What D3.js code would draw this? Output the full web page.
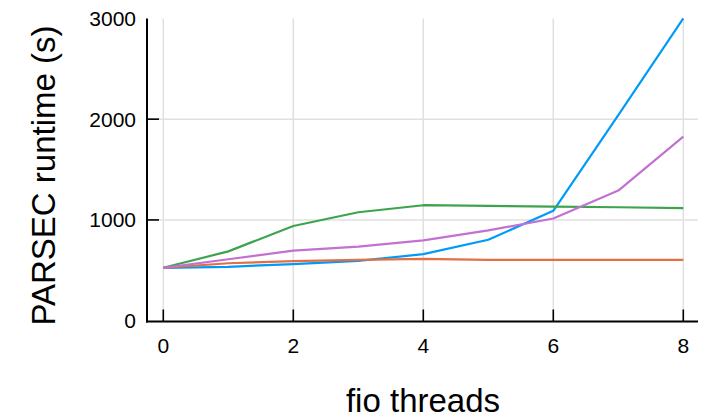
<!DOCTYPE html>
<html>
<head>
<meta charset="utf-8">
<script src="https://cdn.jsdelivr.net/npm/d3@7"></script>
<style>
  body { margin: 0; background: #fff; }
  svg text { font-family: "Liberation Sans", Arial, Helvetica, sans-serif; fill: #000; }
</style>
</head>
<body>
<svg id="chart" width="701" height="420"></svg>
<script>
// fio threads on x
const threads = [0, 1, 2, 3, 4, 5, 6, 7, 8];
// runtime per series
const blueRuntime = [525, 535, 562, 594, 660, 803, 1090, 2040, 3000];
const orangeRuntime = [525, 570, 592, 603, 613, 603, 603, 603, 603];
const greenRuntime = [525, 688, 940, 1076, 1146, 1140, 1132, 1126, 1118];
const purpleRuntime = [525, 610, 695, 735, 798, 896, 1014, 1291, 1827];
const xTicks = [0, 2, 4, 6, 8];
const yTicks = [0, 1000, 2000, 3000];

const series = [
  { values: blueRuntime, color: "#009af9" },
  { values: orangeRuntime, color: "#e26f46" },
  { values: greenRuntime, color: "#3da44d" },
  { values: purpleRuntime, color: "#c271d2" }
];

const svg = d3.select("#chart");

const x = d3.scaleLinear().domain([0, 8]).range([163.3, 683.3]);
const y = d3.scaleLinear().domain([0, 3000]).range([320.7, 18.4]);

const plotLeft = 147, plotRight = 698, plotBottom = 321.5, plotTop = 18.4;

// grid
const grid = svg.append("g").attr("stroke", "#e0e0e0").attr("stroke-width", 1.5);
grid.selectAll(".vx").data(xTicks).enter().append("line")
  .attr("x1", d => x(d)).attr("x2", d => x(d))
  .attr("y1", plotTop).attr("y2", plotBottom);
grid.selectAll(".hy").data(yTicks.filter(d => d > 0 && d < 3000)).enter().append("line")
  .attr("x1", plotLeft).attr("x2", plotRight)
  .attr("y1", d => y(d)).attr("y2", d => y(d));

// lines
const line = d3.line().x((d, i) => x(threads[i])).y(d => y(d));
svg.selectAll(".series").data(series).enter().append("path")
  .attr("fill", "none")
  .attr("stroke", d => d.color)
  .attr("stroke-width", 2.2)
  .attr("stroke-linejoin", "round")
  .attr("d", d => line(d.values));

// spines
svg.append("line").attr("x1", plotLeft).attr("x2", plotLeft).attr("y1", plotTop).attr("y2", plotBottom + 1)
  .attr("stroke", "#000").attr("stroke-width", 2);
svg.append("line").attr("x1", plotLeft - 1).attr("x2", plotRight).attr("y1", plotBottom).attr("y2", plotBottom)
  .attr("stroke", "#000").attr("stroke-width", 2);

// ticks point inward
svg.selectAll(".xt").data(xTicks).enter().append("line")
  .attr("x1", d => x(d)).attr("x2", d => x(d))
  .attr("y1", plotBottom).attr("y2", plotBottom - 12)
  .attr("stroke", "#000").attr("stroke-width", 1.6);
svg.selectAll(".yt").data(yTicks.filter(d => d > 0 && d < 3000)).enter().append("line")
  .attr("x1", plotLeft).attr("x2", plotLeft + 12)
  .attr("y1", d => y(d)).attr("y2", d => y(d))
  .attr("stroke", "#000").attr("stroke-width", 1.6);

// tick labels
svg.selectAll(".xl").data(xTicks).enter().append("text")
  .attr("x", d => x(d)).attr("y", 353)
  .attr("text-anchor", "middle")
  .attr("font-size", 21)
  .text(d => d);
svg.selectAll(".yl").data(yTicks).enter().append("text")
  .attr("x", 136).attr("y", d => y(d) + 7.5)
  .attr("text-anchor", "end")
  .attr("font-size", 21)
  .text(d => d);

// axis titles
svg.append("text")
  .attr("x", 423).attr("y", 412)
  .attr("text-anchor", "middle")
  .attr("font-size", 33)
  .text("fio threads");
svg.append("text")
  .attr("transform", "translate(55,175.5) rotate(-90)")
  .attr("text-anchor", "middle")
  .attr("font-size", 33)
  .text("PARSEC runtime (s)");
</script>
</body>
</html>
